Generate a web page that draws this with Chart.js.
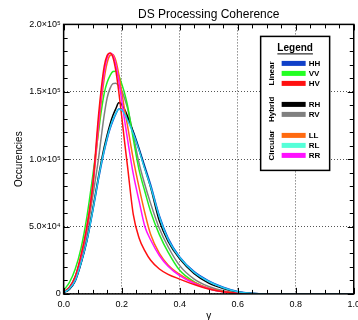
<!DOCTYPE html>
<html>
<head>
<meta charset="utf-8">
<script src="https://cdn.jsdelivr.net/npm/chart.js@4.4.0/dist/chart.umd.min.js"></script>
<style>
  html, body { margin: 0; padding: 0; background: #fff; overflow: hidden; }
</style>
</head>
<body>
<canvas id="grafico" width="367" height="320"></canvas>
<script>
// eje x (coherencia gamma)
const gamma = [0, 0.02, 0.04, 0.06, 0.08, 0.10, 0.12, 0.13, 0.14, 0.15, 0.16, 0.17, 0.18, 0.19, 0.20, 0.21, 0.22,
  0.24, 0.26, 0.28, 0.30, 0.33, 0.36, 0.40, 0.45, 0.50, 0.55, 0.60, 0.65, 0.70, 0.80, 0.90, 1.00];

// ocurrencias por serie
const hh = [1000, 3500, 9500, 22500, 39000, 61000, 85000, 96000, 106000, 115000, 122500, 128500, 133500, 137300, 137000, 134000, 130000,
  120500, 108000, 94500, 81000, 58000, 41500, 27500, 16500, 9700, 5000, 1800, 400, 0, 0, 0, 0];
const vv = [2700, 8500, 18500, 34000, 57000, 87000, 120000, 136000, 149000, 157000, 162000, 165000, 165300, 162000, 156000, 149000, 140000,
  115000, 92000, 76000, 61000, 44000, 31000, 17500, 9000, 4000, 1500, 400, 100, 0, 0, 0, 0];
const hv = [1500, 5000, 13000, 29000, 50000, 80000, 132000, 153000, 169000, 177000, 178700, 175500, 165500, 150000, 132000, 113000, 95000,
  59000, 41500, 32000, 25000, 18500, 14500, 11000, 7000, 3700, 1600, 500, 100, 0, 0, 0, 0];
const rh = [800, 3500, 10000, 23000, 40000, 62500, 87000, 98500, 109000, 118000, 126000, 132500, 137500, 141800, 140800, 137000, 132000,
  120000, 107000, 93000, 79000, 54000, 39000, 26000, 15000, 8000, 4000, 1400, 300, 0, 0, 0, 0];
const rv = [1500, 5000, 13000, 27000, 46000, 72000, 100000, 117000, 133000, 145500, 152500, 156000, 156400, 154500, 151000, 145000, 138000,
  118000, 97000, 81000, 67000, 48500, 35000, 21000, 11000, 5500, 2300, 700, 150, 0, 0, 0, 0];
const ll = [1200, 4500, 12000, 27000, 48000, 78000, 122000, 143000, 160000, 171500, 177000, 177700, 173000, 163000, 150000, 137000, 125000,
  100000, 79000, 60000, 44000, 30000, 21500, 14500, 8500, 4200, 1800, 500, 100, 0, 0, 0, 0];
const rl = [1000, 3800, 10000, 23000, 39500, 61500, 86000, 97000, 107000, 116000, 123500, 129500, 134000, 137000, 136500, 133500, 129000,
  119000, 106500, 92500, 79500, 57000, 40500, 27000, 16000, 9200, 4600, 1600, 350, 0, 0, 0, 0];
const rr = [1200, 4500, 12500, 28000, 49000, 80000, 127000, 148000, 165000, 175000, 178500, 177000, 170000, 158000, 144000, 129000, 115000,
  89000, 69000, 50000, 40000, 28500, 20500, 13500, 7800, 3800, 1500, 400, 100, 0, 0, 0, 0];

const series = [hh, vv, hv, rh, rv, ll, rl, rr];
const etiquetas = ['HH', 'VV', 'HV', 'RH', 'RV', 'LL', 'RL', 'RR'];
const grupos = ['Linear', 'Hybrid', 'Circular'];
const grupoDeSerie = [0, 0, 0, 1, 1, 2, 2, 2];

const xTicks = ['0.0', '0.2', '0.4', '0.6', '0.8', '1.0'];
const yTicks = ['0', '5.0×10⁴', '1.0×10⁵', '1.5×10⁵', '2.0×10⁵'];

const coloresLinea = ['#0a3fd0', '#22ee22', '#ff1010', '#000000', '#808080', '#ff6a10', '#22c8f0', '#ff10ff'];
const coloresLeyenda = ['#1040c8', '#22ff22', '#ff1010', '#000000', '#808080', '#ff6a10', '#55ffd8', '#ff10ff'];
const ordenDibujo = [8, 5, 2, 6, 7, 4, 1, 3];

const FUENTE = '"Liberation Sans", Arial, sans-serif';

// marco, ticks hacia adentro y leyenda agrupada
const marcoPlugin = {
  id: 'marco',
  afterDraw(chart) {
    const { ctx, chartArea: a, scales: { x, y } } = chart;
    ctx.save();
    ctx.strokeStyle = '#000';
    ctx.lineWidth = 1;
    ctx.beginPath();
    for (let i = 0; i <= 20; i++) {
      const px = Math.round(x.getPixelForValue(i * 0.05)) + 0.5;
      const len = i % 4 === 0 ? 6 : 4;
      ctx.moveTo(px, a.bottom); ctx.lineTo(px, a.bottom - len);
      ctx.moveTo(px, a.top); ctx.lineTo(px, a.top + len);
    }
    for (let i = 0; i <= 20; i++) {
      const py = Math.round(y.getPixelForValue(i * 10000)) + 0.5;
      const len = i % 5 === 0 ? 6 : 4;
      ctx.moveTo(a.left, py); ctx.lineTo(a.left + len, py);
      ctx.moveTo(a.right, py); ctx.lineTo(a.right - len, py);
    }
    ctx.stroke();
    ctx.lineWidth = 1.5;
    ctx.strokeRect(a.left, a.top, a.right - a.left, a.bottom - a.top);

    // leyenda
    const bx = a.left + 197, by = a.top + 12, bw = 69, bh = 134;
    ctx.fillStyle = '#fff';
    ctx.fillRect(bx, by, bw, bh);
    ctx.lineWidth = 1.5;
    ctx.strokeRect(bx, by, bw, bh);

    ctx.fillStyle = '#000';
    ctx.font = `bold 10px ${FUENTE}`;
    ctx.textAlign = 'center';
    ctx.textBaseline = 'middle';
    ctx.fillText('Legend', bx + bw / 2, by + 12);
    const wLeg = ctx.measureText('Legend').width;
    ctx.lineWidth = 1;
    ctx.beginPath();
    ctx.moveTo(bx + bw / 2 - wLeg / 2, by + 17.5);
    ctx.lineTo(bx + bw / 2 + wLeg / 2, by + 17.5);
    ctx.stroke();

    const filas = [];
    chart.data.datasets.forEach((ds, i) => {
      const g = grupoDeSerie[i];
      const yy = by + 27 + i * 10 + g * 11;
      filas.push(yy);
      ctx.fillStyle = ds.backgroundColor;
      ctx.fillRect(bx + 21, yy - 2.5, 24, 5);
      ctx.fillStyle = '#000';
      ctx.font = `bold 8px ${FUENTE}`;
      ctx.textAlign = 'left';
      ctx.fillText(ds.label, bx + 48, yy + 0.5);
    });

    grupos.forEach((nombre, g) => {
      const ys = filas.filter((_, i) => grupoDeSerie[i] === g);
      const cy = (ys[0] + ys[ys.length - 1]) / 2;
      ctx.save();
      ctx.translate(bx + 11, cy);
      ctx.rotate(-Math.PI / 2);
      ctx.font = `bold 8px ${FUENTE}`;
      ctx.textAlign = 'center';
      ctx.fillStyle = '#000';
      ctx.fillText(nombre, 0, 0);
      ctx.restore();
    });
    ctx.restore();
  }
};

const ctx = document.getElementById('grafico').getContext('2d');
new Chart(ctx, {
  type: 'line',
  data: {
    datasets: series.map((s, i) => ({
      label: etiquetas[i],
      data: gamma.map((g, j) => ({ x: g, y: s[j] })),
      borderColor: coloresLinea[i],
      backgroundColor: coloresLeyenda[i],
      borderWidth: 1.5,
      pointRadius: 0,
      cubicInterpolationMode: 'monotone',
      fill: false,
      order: ordenDibujo[i]
    }))
  },
  options: {
    responsive: false,
    animation: false,
    devicePixelRatio: 1,
    layout: { padding: { left: 13, right: 0, top: 0, bottom: -1 } },
    plugins: {
      legend: { display: false },
      tooltip: { enabled: false },
      title: {
        display: true,
        fullSize: false,
        text: 'DS Processing Coherence',
        color: '#000',
        font: { family: FUENTE, size: 12, weight: 'normal' },
        padding: { top: 7, bottom: 3 }
      }
    },
    scales: {
      x: {
        type: 'linear',
        min: 0,
        max: 1,
        ticks: {
          stepSize: 0.2,
          maxRotation: 0,
          padding: 7,
          color: '#000',
          font: { family: FUENTE, size: 9, lineHeight: 0.9 },
          callback: v => xTicks[Math.round(v / 0.2)]
        },
        grid: { color: '#555', lineWidth: 1, drawTicks: false },
        border: { display: false, dash: [1, 2] },
        title: {
          display: true,
          text: 'γ',
          color: '#000',
          font: { family: FUENTE, size: 10, lineHeight: 0.9 },
          padding: { top: -4, bottom: 0 }
        }
      },
      y: {
        min: 0,
        max: 200000,
        ticks: {
          stepSize: 50000,
          padding: 3,
          color: '#000',
          font: { family: FUENTE, size: 9 },
          callback: v => yTicks[Math.round(v / 50000)]
        },
        grid: { color: '#555', lineWidth: 1, drawTicks: false },
        border: { display: false, dash: [1, 2] },
        title: {
          display: true,
          text: 'Occurencies',
          color: '#000',
          font: { family: FUENTE, size: 10 },
          padding: { top: 0, bottom: 1 }
        }
      }
    }
  },
  plugins: [marcoPlugin]
});
</script>
</body>
</html>
